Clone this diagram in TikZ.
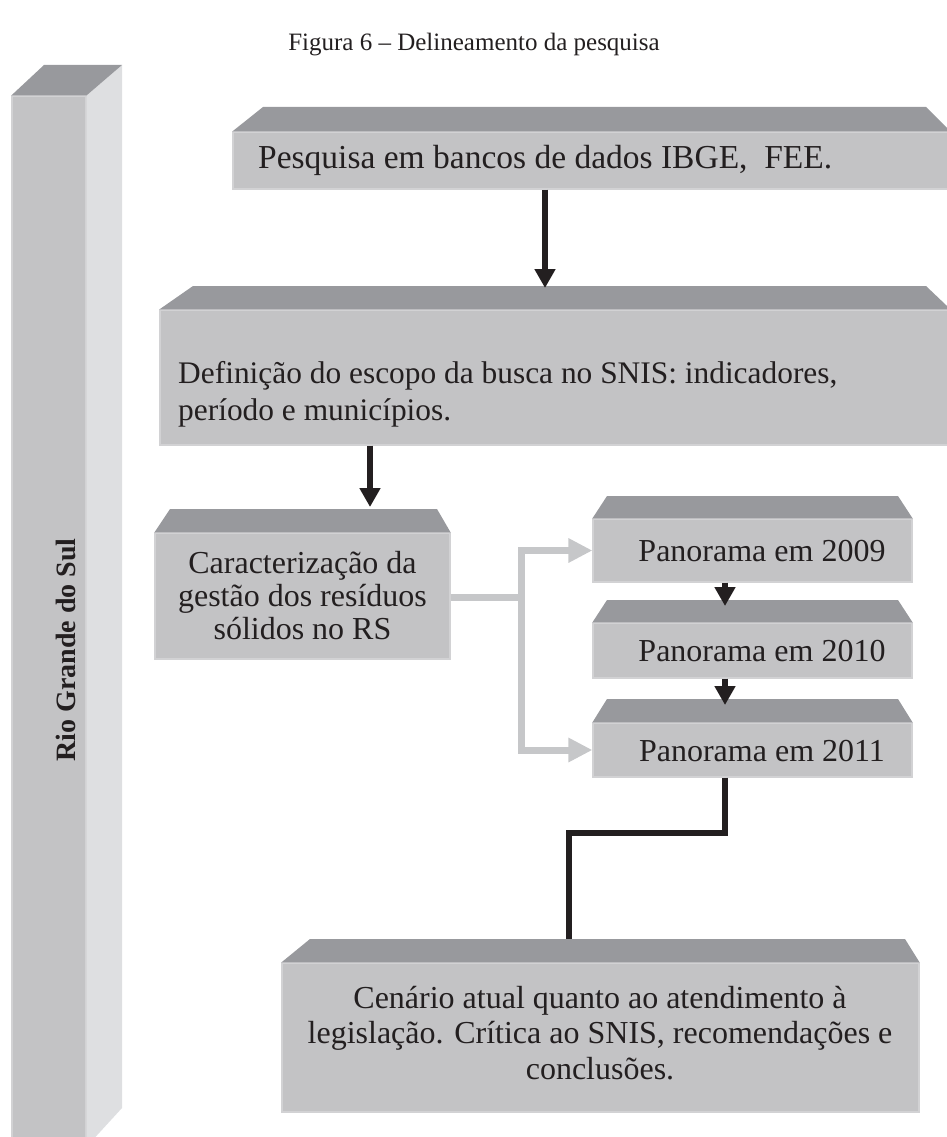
\documentclass[tikz,border=0pt]{standalone}
\usepackage{fontspec}
\setmainfont{Liberation Serif}
\usetikzlibrary{arrows.meta}
\definecolor{frontc}{HTML}{C3C3C5}
\definecolor{topc}{HTML}{98999D}
\definecolor{sidec}{HTML}{DEDFE1}
\definecolor{edgec}{HTML}{D2D2D4}
\definecolor{ink}{HTML}{231F20}
\definecolor{grayarrow}{HTML}{C6C7C9}
\begin{document}
\begin{tikzpicture}[x=1pt,y=-1pt,
  face/.style={fill=frontc, draw=edgec, line width=1.2pt, inner sep=0pt, text=ink,
    font=\fontsize{32}{34}\selectfont, align=center},
  topface/.style={fill=topc},
  sideface/.style={fill=sidec},
  blk/.style={draw=ink, line width=6.5pt, -{Triangle[length=19pt,width=20pt]}},
  blkline/.style={draw=ink, line width=6.5pt},
  grl/.style={draw=grayarrow, line width=7pt},
  gra/.style={grl, -{Triangle[length=24pt,width=23pt]}},
  lbl/.style={text=ink, inner sep=0pt, font=\fontsize{32}{37}\selectfont, align=left},
  ptxt/.style={text=ink, inner sep=0pt, font=\fontsize{32}{34}\selectfont}
]
\useasboundingbox (0,0) rectangle (947,1137);

% title
\node[text=ink, inner sep=0pt, font=\fontsize{25}{30}\selectfont] (title) at (474,45) {Figura 6 -- Delineamento da pesquisa};

% tall bar
\node[face, minimum width=74pt, minimum height=1050pt] (bar) at (49,621) {};
\fill[sideface] (bar.north east) -- (122,65) -- (122,1108) -- (bar.south east) -- cycle;
\fill[topface] (bar.north west) -- (44,65) -- (122,65) -- (bar.north east) -- cycle;
\node[rotate=90, text=ink, inner sep=0pt, font=\bfseries\fontsize{28}{30}\selectfont] (rgs) at (66,650) {Rio Grande do Sul};

% box 1
\node[face, minimum width=717pt, minimum height=57pt] (b1) at (591.5,160.5) {};
\fill[topface] (b1.north west) -- (263,107) -- (926,107) -- (b1.north east) -- cycle;
\node[lbl, anchor=west, font=\fontsize{33.5}{37}\selectfont] (b1t) at (258,160) {Pesquisa em bancos de dados IBGE,\ \ FEE.};

% box 2
\node[face, minimum width=790pt, minimum height=135pt] (b2) at (555,377.5) {};
\fill[topface] (b2.north west) -- (193,286) -- (926,286) -- (b2.north east) -- cycle;
\node[lbl, anchor=west, font=\fontsize{31.4}{37}\selectfont] (b2t) at (178,394) {Definição do escopo da busca no SNIS: indicadores,\\período e municípios.};

% box 3
\node[face, minimum width=295pt, minimum height=126pt, font=\fontsize{32}{33}\selectfont] (b3) at (302.5,596) {Caracterização da\\gestão dos resíduos\\sólidos no RS};
\fill[topface] (b3.north west) -- (170,509) -- (437,509) -- (b3.north east) -- cycle;

% panoramas
\node[face, minimum width=319pt, minimum height=63pt] (p1) at (752.5,550.5) {};
\fill[topface] (p1.north west) -- (607,496) -- (898,496) -- (p1.north east) -- cycle;
\node[ptxt] (p1t) at (762,551) {Panorama em 2009};
\node[face, minimum width=319pt, minimum height=55pt] (p2) at (752.5,650.5) {};
\fill[topface] (p2.north west) -- (607,600) -- (898,600) -- (p2.north east) -- cycle;
\node[ptxt] (p2t) at (762,651) {Panorama em 2010};
\node[face, minimum width=319pt, minimum height=54pt] (p3) at (752.5,750) {};
\fill[topface] (p3.north west) -- (607,699) -- (898,699) -- (p3.north east) -- cycle;
\node[ptxt] (p3t) at (762,751) {Panorama em 2011};

% box 5
\node[face, minimum width=637pt, minimum height=149pt] (b5) at (600.5,1037.5) {};
\fill[topface] (b5.north west) -- (310,939) -- (905,939) -- (b5.north east) -- cycle;
\node[text=ink, inner sep=0pt, align=center, font=\fontsize{32}{35.5}\selectfont] (b5t) at (600,1033) {Cenário atual quanto ao atendimento à\\legislação. Crítica ao SNIS, recomendações e\\conclusões.};

% connector points
\coordinate (a1e) at (545,288);
\coordinate (a2e) at (370,507);
\coordinate (a3e) at (725,606);
\coordinate (a4e) at (725,705);
\coordinate (k1) at (725,833);
\coordinate (k2) at (569,833);
\coordinate (b5in) at (569,939);
\coordinate (J) at (521,597);

% black arrows
\draw[blk] (b1.south -| a1e) -- (a1e);
\draw[blk] (b2.south -| a2e) -- (a2e);
\draw[blk] (p1.south -| a3e) -- (a3e);
\draw[blk] (p2.south -| a4e) -- (a4e);
\draw[blkline] (p3.south -| k1) -- (k1) -- (k2) -- (b5in);

% gray connectors
\draw[grl] (b3.east |- J) -- (J);
\draw[gra] (J) |- (p1.west);
\draw[gra] (J) |- (p3.west);
\end{tikzpicture}
\end{document}
